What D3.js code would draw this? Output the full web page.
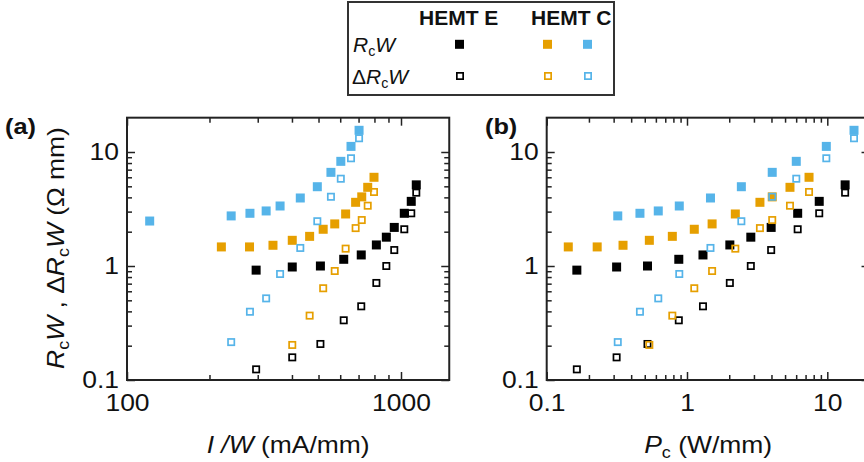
<!DOCTYPE html>
<html>
<head>
<meta charset="utf-8">
<script src="https://cdn.jsdelivr.net/npm/d3@7"></script>
<style>
  body { margin: 0; background: #fff; }
  text { font-family: "Liberation Sans", Arial, Helvetica, sans-serif; fill: #111; }
</style>
</head>
<body>
<svg id="chart" width="864" height="462"></svg>
<script>
// ---- Data ----------------------------------------------------------------
// HEMT E
const currentE = [296, 401, 508, 618, 716, 813, 884, 945, 1028, 1090, 1137];          // I/W (mA/mm)
const powerE   = [0.164, 0.315, 0.523, 0.874, 1.30, 2.02, 2.85, 3.98, 6.15, 8.76, 13.4]; // Pc (W/mm)
const rcwE     = [0.92, 0.98, 1.0, 1.145, 1.25, 1.53, 1.79, 2.18, 2.90, 3.69, 5.15];    // RcW (Ω mm)
const dRcwE    = [0.124, 0.158, 0.207, 0.334, 0.443, 0.71, 1.0, 1.38, 2.10, 2.90, 4.40]; // ΔRcW (Ω mm)

// HEMT C (orange set)
const currentC1 = [221, 280, 341, 401, 464, 520, 573, 628, 683, 719, 756, 797];
const powerC1   = [0.1425, 0.229, 0.350, 0.539, 0.786, 1.127, 1.51, 2.21, 3.31, 4.05, 5.42, 7.41];
const rcwC1     = [1.47, 1.47, 1.52, 1.68, 1.82, 2.10, 2.34, 2.86, 3.62, 4.04, 4.90, 6.0];
const dRcwC1    = [null, null, null, 0.203, 0.367, 0.638, 0.904, 1.42, 2.15, 2.53, 3.38, 4.46];

// HEMT C (blue set)
const currentC2 = [121, 240, 281, 322, 362, 429, 495, 555, 603, 657, 703];
const powerC2   = [null, 0.321, 0.462, 0.624, 0.881, 1.47, 2.44, 4.05, 6.01, 9.84, 15.5];
const rcwC2     = [2.48, 2.75, 2.90, 3.04, 3.36, 3.95, 4.96, 6.63, 8.28, 11.2, 15.5];
const dRcwC2    = [null, 0.215, 0.397, 0.52, 0.851, 1.44, 2.47, 4.05, 5.83, 8.81, 13.2];

// Axis ticks
const yMajor = [0.1, 1, 10];
const yMinor = [0.2, 0.3, 0.4, 0.5, 0.6, 0.7, 0.8, 0.9, 2, 3, 4, 5, 6, 7, 8, 9];
const xMajorA = [100, 1000];
const xMinorA = [200, 300, 400, 500, 600, 700, 800, 900];
const xMajorB = [0.1, 1, 10];
const xMinorB = [0.2, 0.3, 0.4, 0.5, 0.6, 0.7, 0.8, 0.9, 2, 3, 4, 5, 6, 7, 8, 9];

const colorE = "#000000";
const colorC1 = "#E69F00";
const colorC2 = "#56B4E9";

const devices = [
  { color: colorE,  current: currentE,  power: powerE,  rcw: rcwE,  drcw: dRcwE },
  { color: colorC1, current: currentC1, power: powerC1, rcw: rcwC1, drcw: dRcwC1 },
  { color: colorC2, current: currentC2, power: powerC2, rcw: rcwC2, drcw: dRcwC2 }
];

// ---- Layout --------------------------------------------------------------
const svg = d3.select("#chart");
const plotTop = 380 - 114 * Math.log10(200);
const plotBottom = 380;
const stretch = 1.15;          // horizontal text stretch used for axis text
const tickFont = 23;

const y = d3.scaleLog().domain([0.1, 20]).range([plotBottom, plotTop]);
const xA = d3.scaleLog().domain([100, 1500]).range([127, 127 + 274 * Math.log10(15)]);
const xB = d3.scaleLog().domain([0.1, 20]).range([546.7, 546.7 + 140.3 * Math.log10(200)]);

const FILLED = 9, OPEN_OUT = 8, OPEN_SW = 1.7;

function styleAxis(g) {
  g.attr("font-family", null).attr("font-size", null);
  g.select(".domain").remove();
  g.selectAll(".tick line").attr("stroke", "#222").attr("stroke-width", 1.5);
}

function drawPanel(x, xMajor, xMinor, xFmt, xKey) {
  const [x0, x1] = x.range();
  const p = svg.append("g");

  // bottom axis (ticks point inward)
  p.append("g").attr("transform", `translate(0,${plotBottom})`)
    .call(d3.axisBottom(x).tickValues(xMinor).tickSizeInner(-5).tickSizeOuter(0).tickFormat(""))
    .call(styleAxis);
  const bx = p.append("g").attr("transform", `translate(0,${plotBottom})`)
    .call(d3.axisBottom(x).tickValues(xMajor).tickSizeInner(-8).tickSizeOuter(0).tickPadding(15).tickFormat(xFmt))
    .call(styleAxis);
  bx.selectAll("text").attr("font-size", tickFont).attr("transform", `scale(${stretch},1)`);

  // top axis
  p.append("g").attr("transform", `translate(0,${plotTop})`)
    .call(d3.axisTop(x).tickValues(xMinor).tickSizeInner(-5).tickSizeOuter(0).tickFormat(""))
    .call(styleAxis);
  p.append("g").attr("transform", `translate(0,${plotTop})`)
    .call(d3.axisTop(x).tickValues(xMajor).tickSizeInner(-8).tickSizeOuter(0).tickFormat(""))
    .call(styleAxis);

  // left axis
  p.append("g").attr("transform", `translate(${x0},0)`)
    .call(d3.axisLeft(y).tickValues(yMinor).tickSizeInner(-5).tickSizeOuter(0).tickFormat(""))
    .call(styleAxis);
  const ly = p.append("g").attr("transform", `translate(${x0},0)`)
    .call(d3.axisLeft(y).tickValues(yMajor).tickSizeInner(-8).tickSizeOuter(0).tickPadding(7)
      .tickFormat(d => d === 0.1 ? "0.1" : String(d)))
    .call(styleAxis);
  ly.selectAll("text").attr("font-size", tickFont).attr("transform", `scale(${stretch},1)`);

  // right axis
  p.append("g").attr("transform", `translate(${x1},0)`)
    .call(d3.axisRight(y).tickValues(yMinor).tickSizeInner(-5).tickSizeOuter(0).tickFormat(""))
    .call(styleAxis);
  p.append("g").attr("transform", `translate(${x1},0)`)
    .call(d3.axisRight(y).tickValues(yMajor).tickSizeInner(-8).tickSizeOuter(0).tickFormat(""))
    .call(styleAxis);

  // frame
  p.append("rect")
    .attr("x", x0).attr("y", plotTop)
    .attr("width", x1 - x0).attr("height", plotBottom - plotTop)
    .attr("fill", "none").attr("stroke", "#222").attr("stroke-width", 2);

  // markers: all filled sets first, then open sets on top
  const pts = (dev, yKey) => dev[xKey]
    .map((v, i) => ({ x: v, y: dev[yKey][i] }))
    .filter(d => d.x != null && d.y != null);

  devices.forEach(dev => {
    p.append("g").selectAll("rect").data(pts(dev, "rcw")).join("rect")
      .attr("x", d => x(d.x) - FILLED / 2).attr("y", d => y(d.y) - FILLED / 2)
      .attr("width", FILLED).attr("height", FILLED)
      .attr("fill", dev.color);
  });
  const inner = OPEN_OUT - OPEN_SW;
  devices.forEach(dev => {
    p.append("g").selectAll("rect").data(pts(dev, "drcw")).join("rect")
      .attr("x", d => x(d.x) - inner / 2).attr("y", d => y(d.y) - inner / 2)
      .attr("width", inner).attr("height", inner)
      .attr("fill", "none").attr("stroke", dev.color).attr("stroke-width", OPEN_SW);
  });
  return p;
}

drawPanel(xA, xMajorA, xMinorA, d => String(d), "current");
drawPanel(xB, xMajorB, xMinorB, d => d === 0.1 ? "0.1" : String(d), "power");

// ---- Labels --------------------------------------------------------------
function stretchedText(xp, yp, opts) {
  const t = svg.append("text")
    .attr("transform", `translate(${xp},${yp})${opts.rotate ? " rotate(" + opts.rotate + ")" : ""} scale(${stretch},1)`)
    .attr("font-size", opts.size)
    .attr("text-anchor", opts.anchor || "start");
  if (opts.bold) t.attr("font-weight", "bold");
  return t;
}
function addRun(t, str, style) {
  const s = t.append("tspan").text(str);
  if (style === "i") s.attr("font-style", "italic");
  if (style === "sub") s.attr("font-size", "0.68em").attr("baseline-shift", "-28%");
  return s;
}

// panel tags
stretchedText(5, 134, { size: 22, bold: true }).text("(a)");
stretchedText(485, 134, { size: 22, bold: true }).text("(b)");

// x titles
const tA = stretchedText((xA.range()[0] + xA.range()[1]) / 2, 453, { size: 23, anchor: "middle" });
addRun(tA, "I", "i"); addRun(tA, " /", "i"); addRun(tA, "W", "i"); addRun(tA, " (mA/mm)");

const tB = stretchedText((xB.range()[0] + xB.range()[1]) / 2, 453, { size: 23, anchor: "middle" });
addRun(tB, "P", "i"); addRun(tB, "c", "sub"); addRun(tB, " (W/mm)");

// y title
const tY = stretchedText(64, 248, { size: 23, anchor: "middle", rotate: -90 });
addRun(tY, "R", "i"); addRun(tY, "c", "sub"); addRun(tY, "W", "i"); addRun(tY, " , ");
addRun(tY, "\u0394"); addRun(tY, "R", "i"); addRun(tY, "c", "sub"); addRun(tY, "W", "i");
addRun(tY, " (\u03A9 mm)");

// ---- Legend --------------------------------------------------------------
const lg = svg.append("g");
lg.append("rect").attr("x", 348).attr("y", 2).attr("width", 266).attr("height", 93)
  .attr("fill", "#fff").attr("stroke", "#333").attr("stroke-width", 2);
lg.append("text").attr("x", 419).attr("y", 25).attr("font-size", 21).attr("font-weight", "bold").text("HEMT E");
lg.append("text").attr("x", 531).attr("y", 25).attr("font-size", 21).attr("font-weight", "bold").text("HEMT C");

const r1 = lg.append("text").attr("x", 353).attr("y", 52).attr("font-size", 21);
addRun(r1, "R", "i"); addRun(r1, "c", "sub"); addRun(r1, "W", "i");
const r2 = lg.append("text").attr("x", 352).attr("y", 84).attr("font-size", 21);
addRun(r2, "\u0394"); addRun(r2, "R", "i"); addRun(r2, "c", "sub"); addRun(r2, "W", "i");

const legendCols = [
  { color: colorE, cx: 459.5 },
  { color: colorC1, cx: 547.5 },
  { color: colorC2, cx: 587.5 }
];
legendCols.forEach(c => {
  lg.append("rect").attr("x", c.cx - FILLED / 2).attr("y", 44.3 - FILLED / 2)
    .attr("width", FILLED).attr("height", FILLED).attr("fill", c.color);
  const inner = OPEN_OUT - OPEN_SW;
  lg.append("rect").attr("x", c.cx + 0.5 - inner / 2).attr("y", 76 - inner / 2)
    .attr("width", inner).attr("height", inner)
    .attr("fill", "none").attr("stroke", c.color).attr("stroke-width", OPEN_SW);
});
</script>
</body>
</html>
